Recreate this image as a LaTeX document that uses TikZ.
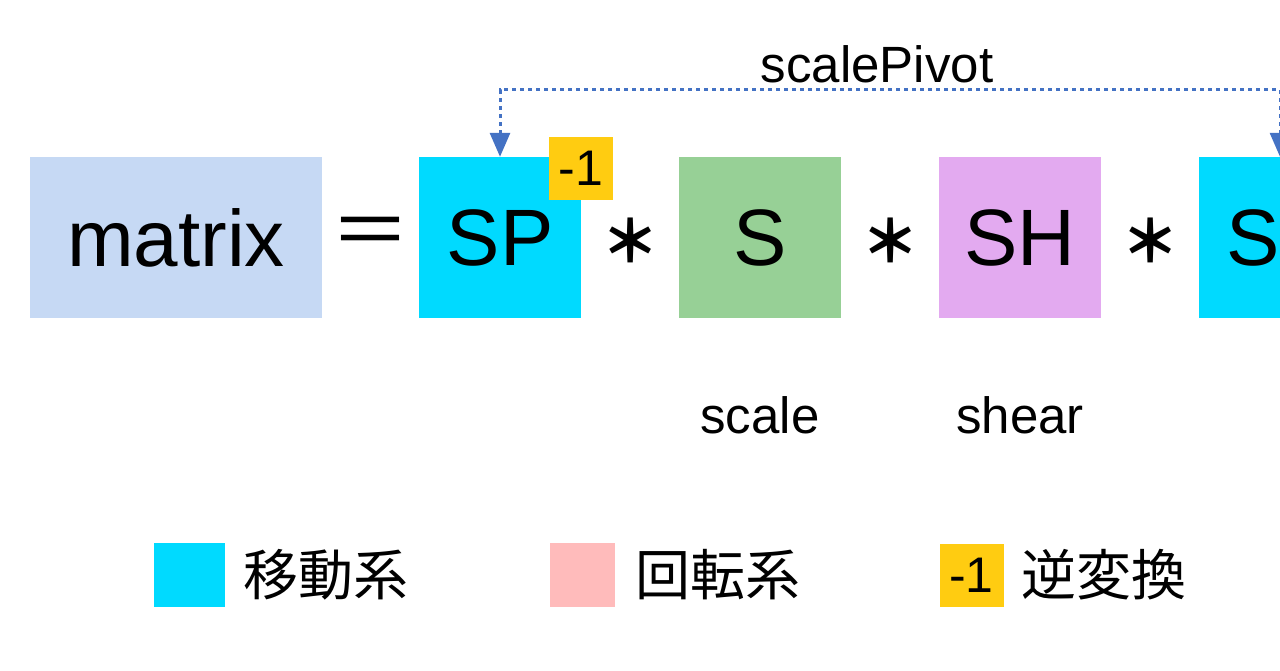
\documentclass[tikz,border=0pt]{standalone}
\usepackage{fontspec}
\setmainfont{Liberation Sans}
\newfontfamily\jpfont{Noto Sans CJK JP}
\usetikzlibrary{positioning,arrows.meta}

\definecolor{mxblue}{RGB}{198,217,244}
\definecolor{movecyan}{RGB}{0,218,255}
\definecolor{scalegreen}{RGB}{151,208,150}
\definecolor{shearviolet}{RGB}{227,170,240}
\definecolor{rotpink}{RGB}{255,187,187}
\definecolor{invyellow}{RGB}{255,204,17}
\definecolor{pivotblue}{RGB}{68,114,196}

\tikzset{
  box/.style={minimum width=162pt,minimum height=161pt,inner sep=0pt,
    font=\fontsize{80}{80}\selectfont},
  eqsign/.style={inner sep=0pt,font=\jpfont\fontsize{80}{80}\selectfont},
  op/.style={inner sep=0pt,font=\jpfont\bfseries\fontsize{58}{58}\selectfont},
  badge/.style={fill=invyellow,minimum width=64pt,minimum height=63pt,
    inner sep=0pt,font=\fontsize{50}{50}\selectfont},
  lbl/.style={inner sep=0pt,font=\fontsize{51}{51}\selectfont},
  key/.style={minimum width=65pt,minimum height=64pt,inner sep=0pt},
  keytxt/.style={inner sep=0pt,font=\jpfont\fontsize{55}{55}\selectfont},
  pivot/.style={draw=pivotblue,line width=3pt,dash pattern=on 4pt off 4pt,
    {Triangle[width=20pt,length=24pt]}-{Triangle[width=20pt,length=24pt]}}
}

\begin{document}
\begin{tikzpicture}[x=1pt,y=-1pt]
  \useasboundingbox (0,0) rectangle (1280,670);
  \clip (0,0) rectangle (1280,670);

  % the product
  \node[box,fill=mxblue,minimum width=292pt] (mat) at (176,237.5) {matrix};
  \node[eqsign] (eq) at (370,238) {＝};
  \node[box,fill=movecyan] (sp) at (500,237.5) {SP};
  \node[badge] (inv) at (581,168.5) {-1};
  \node[op] (m1) at (630,240) {＊};
  \node[box,fill=scalegreen] (sc) at (760,237.5) {S};
  \node[op] (m2) at (890,240) {＊};
  \node[box,fill=shearviolet] (sh) at (1020,237.5) {SH};
  \node[op] (m3) at (1150,240) {＊};
  \node[box,fill=movecyan] (sp2) at (1280,237.5) {SP};

  \node[lbl] (lscale) at (760,415) {scale};
  \node[lbl] (lshear) at (1020,415) {shear};

  % pivot link
  \node[lbl] (lpivot) at (877,64) {scalePivot};
  \draw[pivot] (sp.north) -- ++(0,-67) -| (sp2.north);

  % legend
  \node[key,fill=movecyan,minimum width=71pt] (kmove) at (189.5,575) {};
  \node[keytxt,right=18pt of kmove] (tmove) {移動系};
  \node[key,fill=rotpink] (krot) at (582,575) {};
  \node[keytxt,right=21pt of krot] (trot) {回転系};
  \node[key,badge] (kinv) at (971.5,575) {-1};
  \node[keytxt,right=18pt of kinv] (tinv) {逆変換};
\end{tikzpicture}
\end{document}
